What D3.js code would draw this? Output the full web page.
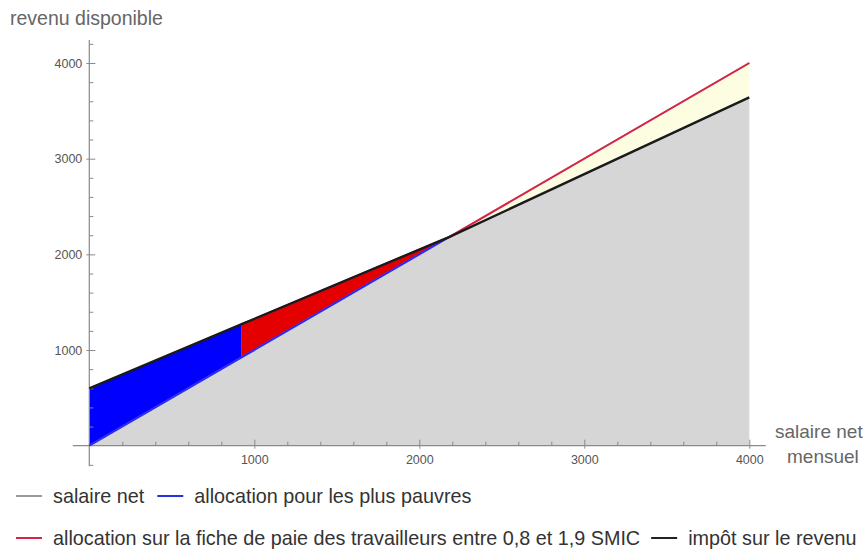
<!DOCTYPE html>
<html>
<head>
<meta charset="utf-8">
<script src="https://cdn.jsdelivr.net/npm/d3@7/dist/d3.min.js"></script>
<style>
  html, body { margin: 0; padding: 0; background: #fff; }
  svg { display: block; }
  text { font-family: "Liberation Sans", Arial, Helvetica, sans-serif; }
</style>
</head>
<body>
<svg id="chart" width="868" height="550"></svg>
<script>
// ---- data ----
const salaireMensuel = [0, 920, 2180, 4000];            // x values (salaire net mensuel)
const salaireNet = [0, 920, 2180, 4000];                 // grey line
const revenuAvecAllocation = [600, 1267, 2180, 4000];    // blue / red allocations upper bound
const revenuApresImpot = [600, 1267, 2180, 3640];        // black line (impôt sur le revenu)
const xMajorTicks = [1000, 2000, 3000, 4000];
const yMajorTicks = [1000, 2000, 3000, 4000];
const xMinorTicks = [200, 400, 600, 800, 1200, 1400, 1600, 1800, 2200, 2400, 2600, 2800, 3200, 3400, 3600, 3800];
const yMinorTicks = [-200, 200, 400, 600, 800, 1200, 1400, 1600, 1800, 2200, 2400, 2600, 2800, 3200, 3400, 3600, 3800, 4200];
const legendRow1 = [
  {label: "salaire net", color: "#9a9a9a"},
  {label: "allocation pour les plus pauvres", color: "#2233dd"}
];
const legendRow2 = [
  {label: "allocation sur la fiche de paie des travailleurs entre 0,8 et 1,9 SMIC", color: "#d8244a"},
  {label: "impôt sur le revenu", color: "#222222"}
];

const svg = d3.select("#chart");
const x = d3.scaleLinear().domain([0, 4000]).range([89.3, 749.3]);
const y = d3.scaleLinear().domain([0, 4000]).range([445.7, 63]);

const pts = salaireMensuel.map((s, i) => ({
  x: s, net: salaireNet[i], alloc: revenuAvecAllocation[i], impot: revenuApresImpot[i]
}));

// gray fill under lowest curve
const areaGray = d3.area().x(d => x(d.x)).y0(y(0)).y1(d => y(Math.min(d.net, d.impot)));
svg.append("path").datum(pts).attr("d", areaGray).attr("fill", "#d6d6d6");

// blue: allocation pour les plus pauvres
const areaAlloc = d3.area().x(d => x(d.x)).y0(d => y(d.net)).y1(d => y(d.alloc));
svg.append("path").datum(pts.slice(0, 2)).attr("d", areaAlloc).attr("fill", "#0000ff");
// red: allocation sur la fiche de paie
svg.append("path").datum(pts.slice(1, 3)).attr("d", areaAlloc).attr("fill", "#e40000");
// yellow: impôt
const areaImpot = d3.area().x(d => x(d.x)).y0(d => y(d.impot)).y1(d => y(d.alloc));
svg.append("path").datum(pts.slice(2)).attr("d", areaImpot).attr("fill", "#fdfde2");

// axes
const axisColor = "#8a8a8a";
svg.append("line").attr("x1", x(-100)).attr("x2", x(4100)).attr("y1", y(0)).attr("y2", y(0))
  .attr("stroke", axisColor).attr("stroke-width", 1.2);
svg.append("line").attr("x1", x(0)).attr("x2", x(0)).attr("y1", y(-215)).attr("y2", y(4240))
  .attr("stroke", axisColor).attr("stroke-width", 1.2);

const gx = svg.append("g").attr("transform", `translate(0,${y(0)})`)
  .call(d3.axisBottom(x).tickValues(xMajorTicks).tickSize(-6).tickPadding(9).tickFormat(d3.format("d")));
gx.select(".domain").remove();
gx.selectAll("line").attr("y1", 3).attr("stroke", axisColor);
gx.selectAll("text").attr("font-size", 12.5).attr("fill", "#555");

const gxm = svg.append("g").attr("transform", `translate(0,${y(0)})`)
  .call(d3.axisBottom(x).tickValues(xMinorTicks).tickSize(-4).tickFormat(""));
gxm.select(".domain").remove();
gxm.selectAll("line").attr("stroke", axisColor);

const gy = svg.append("g").attr("transform", `translate(${x(0)},0)`)
  .call(d3.axisLeft(y).tickValues(yMajorTicks).tickSize(-6).tickPadding(7).tickFormat(d3.format("d")));
gy.select(".domain").remove();
gy.selectAll("line").attr("x1", -3).attr("stroke", axisColor);
gy.selectAll("text").attr("font-size", 12.5).attr("fill", "#555");

const gym = svg.append("g").attr("transform", `translate(${x(0)},0)`)
  .call(d3.axisLeft(y).tickValues(yMinorTicks).tickSize(-4).tickFormat(""));
gym.select(".domain").remove();
gym.selectAll("line").attr("stroke", axisColor);

// lines
const line = (key) => d3.line().x(d => x(d.x)).y(d => y(d[key]));
svg.append("path").datum(pts).attr("d", line("net")).attr("fill", "none").attr("stroke", "#9a9a9a").attr("stroke-width", 1.5);
svg.append("path").datum(pts.slice(0, 3)).attr("d", line("net")).attr("fill", "none").attr("stroke", "#2a2aff").attr("stroke-width", 2);
svg.append("path").datum(pts.slice(1, 3)).attr("d", line("alloc")).attr("fill", "none").attr("stroke", "#d8244a").attr("stroke-width", 2);
svg.append("path").datum(pts.slice(2)).attr("d", line("alloc")).attr("fill", "none").attr("stroke", "#d8244a").attr("stroke-width", 2);
svg.append("path").datum(pts).attr("d", line("impot")).attr("fill", "none").attr("stroke", "#1a1a1a").attr("stroke-width", 2.4);

// axis titles
svg.append("text").attr("x", 10).attr("y", 25).attr("font-size", 19.5).attr("fill", "#666").text("revenu disponible");
svg.append("text").attr("x", 775).attr("y", 438).attr("font-size", 19).attr("fill", "#666").text("salaire net");
svg.append("text").attr("x", 787).attr("y", 463).attr("font-size", 19).attr("fill", "#666").text("mensuel");

// legend
function legendRow(items, startX, baseY, gap) {
  let cx = startX;
  items.forEach(it => {
    svg.append("line").attr("x1", cx).attr("x2", cx + 26).attr("y1", baseY - 7).attr("y2", baseY - 7)
      .attr("stroke", it.color).attr("stroke-width", 2);
    const t = svg.append("text").attr("x", cx + 37).attr("y", baseY).attr("font-size", 19.8)
      .attr("fill", "#333").text(it.label);
    const w = t.node().getComputedTextLength();
    cx = cx + 37 + w + gap;
  });
}
legendRow(legendRow1, 16, 503, 13);
legendRow(legendRow2, 16, 545, 11);
</script>
</body>
</html>
